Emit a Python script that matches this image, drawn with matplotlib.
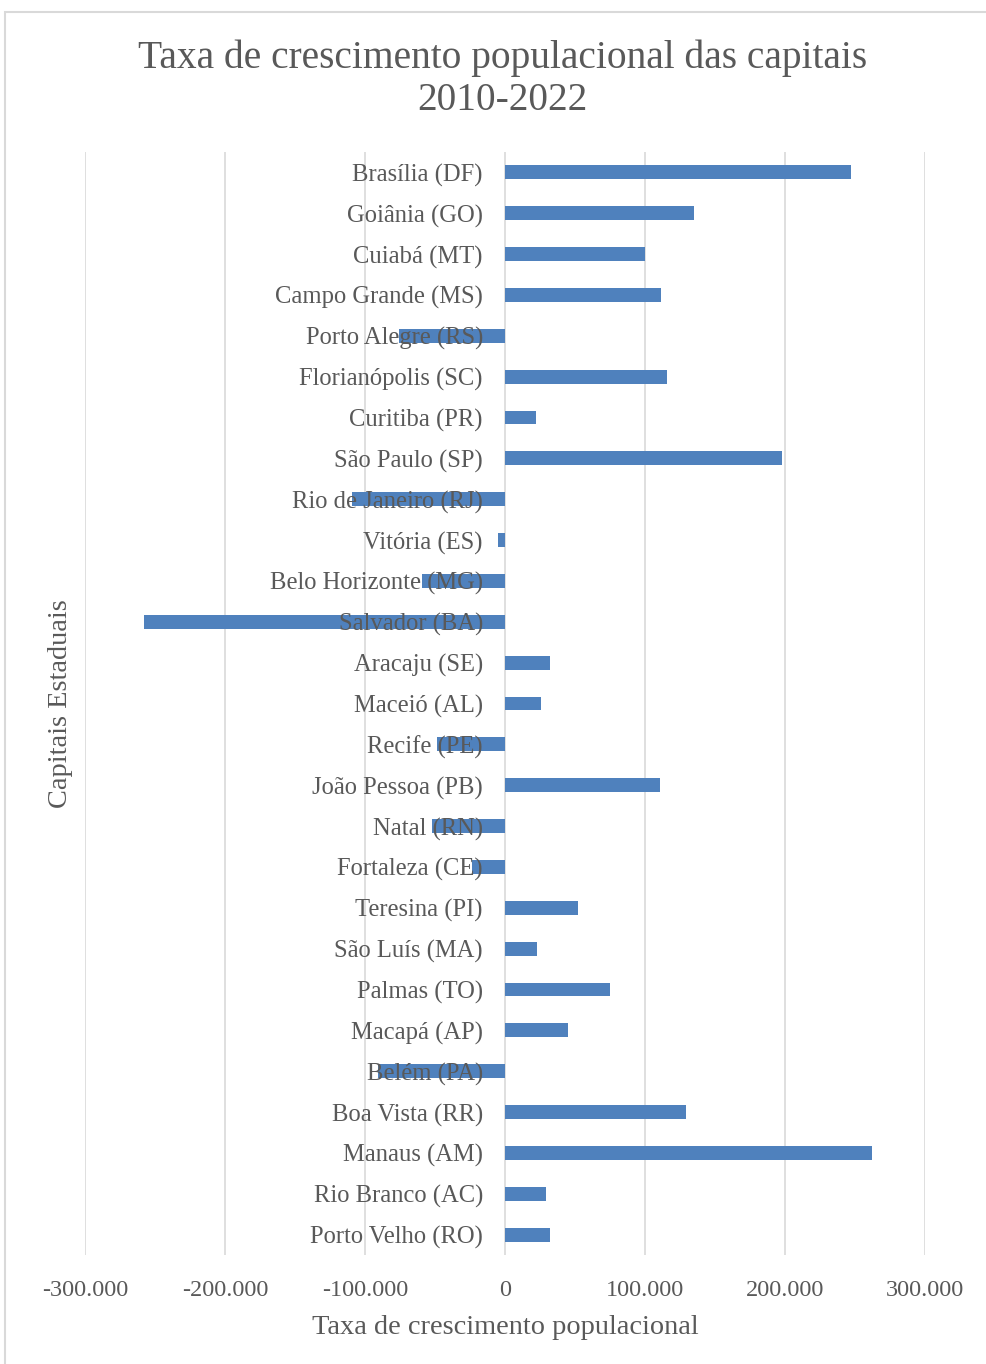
import matplotlib
matplotlib.use("Agg")
import matplotlib.pyplot as plt
from matplotlib.patches import Rectangle
from matplotlib.ticker import FuncFormatter
from matplotlib.transforms import offset_copy

# capitals listed bottom to top
capitais = [
    "Porto Velho (RO)", "Rio Branco (AC)", "Manaus (AM)", "Boa Vista (RR)",
    "Belém (PA)", "Macapá (AP)", "Palmas (TO)", "São Luís (MA)",
    "Teresina (PI)", "Fortaleza (CE)", "Natal (RN)", "João Pessoa (PB)",
    "Recife (PE)", "Maceió (AL)", "Aracaju (SE)", "Salvador (BA)",
    "Belo Horizonte (MG)", "Vitória (ES)", "Rio de Janeiro (RJ)",
    "São Paulo (SP)", "Curitiba (PR)", "Florianópolis (SC)",
    "Porto Alegre (RS)", "Campo Grande (MS)", "Cuiabá (MT)",
    "Goiânia (GO)", "Brasília (DF)",
]
crescimento = [
    32000, 29000, 262000, 129000,
    -90500, 45000, 75000, 23000,
    52000, -23800, -52400, 110700,
    -48800, 25700, 32000, -257600,
    -59500, -4800, -109500,
    198000, 22000, 116000,
    -76000, 111400, 100000,
    135000, 247000,
]
xticks = [-300000, -200000, -100000, 0, 100000, 200000, 300000]

plt.rcParams['font.family'] = ['Liberation Serif', 'DejaVu Serif']
texto = '#595959'
azul = '#4F81BD'

fig = plt.figure(figsize=(9.86, 13.64), dpi=100)
ax = fig.add_axes([0.0862, 0.0799, 0.8519, 0.8087])

ax.barh(range(len(capitais)), crescimento, height=0.34, color=azul, zorder=2)

ax.set_xlim(-300000, 300000)
ax.set_ylim(-0.5, len(capitais) - 0.5)
ax.set_xticks(xticks)
ax.xaxis.set_major_formatter(FuncFormatter(lambda v, p: f"{int(v):,}".replace(",", ".")))
ax.grid(axis='x', color='#d9d9d9', linewidth=1.2, zorder=0)
ax.set_yticks([])
for s in ['left', 'right', 'top', 'bottom']:
    ax.spines[s].set_visible(False)
ax.tick_params(axis='x', length=0, pad=18, labelsize=17.5, labelcolor=texto)

# category names next to the zero line, drawn over the bars
rotulo = offset_copy(ax.transData, fig=fig, x=-22, y=-3, units='dots')
for i, nome in enumerate(capitais):
    ax.text(0, i, nome, transform=rotulo, ha='right', va='center',
            fontsize=17.7, color=texto, zorder=3)

ax.set_xlabel("Taxa de crescimento populacional", fontsize=20.4, color=texto, labelpad=10)
fig.text(0.061, 0.484, "Capitais Estaduais", rotation=90, fontsize=20.4,
         color=texto, ha='center', va='center')
fig.text(0.51, 0.942, "Taxa de crescimento populacional das capitais\n2010-2022",
         fontsize=28.4, color=texto, ha='center', va='center', linespacing=1.2)

# chart frame
fig.patches.append(Rectangle((0.005, -0.01), 1.0, 1.001, transform=fig.transFigure,
                             fill=False, edgecolor='#d9d9d9', linewidth=1.5))

fig.savefig("out.png", dpi=100)
